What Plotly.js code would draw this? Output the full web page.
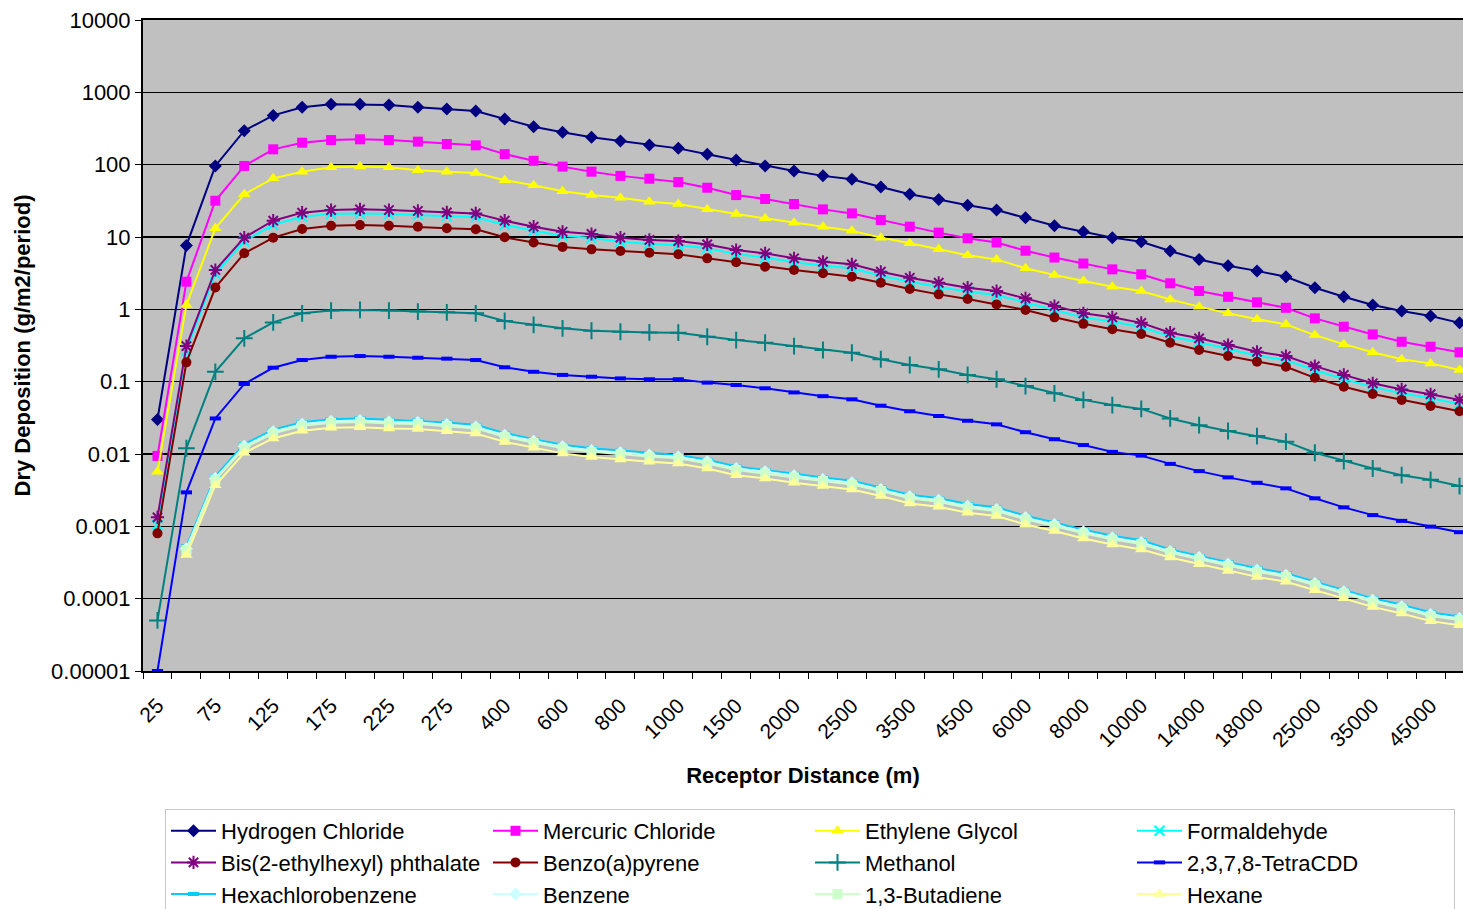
<!DOCTYPE html>
<html>
<head>
<meta charset="utf-8">
<script src="https://cdn.plot.ly/plotly-3.0.1.min.js"></script>
<style>html,body{margin:0;padding:0;background:#fff;overflow:hidden}#chart{width:1463px;height:909px}</style>
</head>
<body>
<div id="chart"></div>
<script>
const distances = ["25","50","75","100","125","150","175","200","225","250","275","300","400","500","600","700","800","900","1000","1250","1500","1750","2000","2250","2500","3000","3500","4000","4500","5000","6000","7000","8000","9000","10000","12000","14000","16000","18000","20000","25000","30000","35000","40000","45000","50000"];

const hydrogenChloride = [0.030, 7.6, 96, 295, 480, 620, 683, 683, 668, 620, 587, 553, 429, 335, 280, 239, 212, 187, 168, 139, 116, 96, 82, 70, 63, 49, 39, 33, 27.4, 23.6, 18.5, 14.3, 11.8, 9.8, 8.6, 6.4, 4.9, 4.0, 3.4, 2.82, 1.99, 1.49, 1.15, 0.95, 0.81, 0.65];
const mercuricChloride = [0.0094, 2.41, 31.7, 96, 163, 201, 219, 224, 219, 208, 193, 185, 140, 113, 94, 80, 70, 64, 57.5, 48, 38, 33.5, 28.6, 24.1, 21.2, 17.2, 13.9, 11.5, 9.6, 8.4, 6.46, 5.2, 4.3, 3.57, 3.05, 2.29, 1.79, 1.49, 1.25, 1.05, 0.75, 0.575, 0.45, 0.356, 0.304, 0.255];
const ethyleneGlycol = [0.0057, 1.15, 13.2, 38.9, 64.7, 80, 92, 94, 92, 84, 80, 77, 61, 52, 43, 38, 34.9, 30.7, 28.6, 24.1, 20.8, 18.1, 15.7, 13.9, 12.2, 9.8, 8.2, 6.75, 5.6, 4.9, 3.69, 2.98, 2.49, 2.05, 1.79, 1.37, 1.09, 0.88, 0.73, 0.62, 0.44, 0.33, 0.255, 0.204, 0.179, 0.145];
const formaldehyde = [0.00105, 0.27, 3.1, 8.7, 14.8, 19.1, 20.8, 21.2, 20.8, 20.2, 19.3, 18.7, 14.8, 12.2, 10.4, 9.7, 8.6, 8.0, 7.7, 7.0, 5.8, 5.2, 4.46, 4.0, 3.69, 2.91, 2.4, 2.05, 1.75, 1.58, 1.25, 0.98, 0.77, 0.68, 0.57, 0.42, 0.35, 0.283, 0.228, 0.199, 0.144, 0.109, 0.084, 0.069, 0.059, 0.049];
const bisPhthalate = [0.00133, 0.31, 3.5, 9.8, 16.8, 21.7, 23.6, 24.1, 23.6, 22.9, 21.9, 21.2, 16.8, 13.9, 11.8, 11.0, 9.8, 9.1, 8.8, 7.9, 6.6, 5.95, 5.07, 4.55, 4.19, 3.31, 2.73, 2.33, 1.99, 1.79, 1.42, 1.11, 0.88, 0.775, 0.65, 0.475, 0.397, 0.321, 0.259, 0.226, 0.164, 0.124, 0.095, 0.078, 0.067, 0.056];
const benzoPyrene = [0.0008, 0.185, 2.0, 5.95, 9.8, 12.9, 14.3, 14.6, 14.3, 13.9, 13.2, 12.8, 9.9, 8.4, 7.3, 6.75, 6.4, 6.06, 5.76, 5.07, 4.47, 3.88, 3.5, 3.15, 2.82, 2.33, 1.91, 1.61, 1.39, 1.17, 0.98, 0.775, 0.63, 0.53, 0.456, 0.345, 0.274, 0.226, 0.189, 0.161, 0.113, 0.085, 0.0675, 0.056, 0.046, 0.039];
const methanol = [0.00005, 0.012, 0.137, 0.397, 0.66, 0.88, 0.96, 0.98, 0.96, 0.93, 0.91, 0.88, 0.69, 0.61, 0.546, 0.506, 0.49, 0.48, 0.475, 0.418, 0.376, 0.345, 0.31, 0.274, 0.251, 0.204, 0.17, 0.148, 0.124, 0.108, 0.087, 0.069, 0.056, 0.0475, 0.042, 0.031, 0.025, 0.0208, 0.0177, 0.0148, 0.0104, 0.008, 0.0063, 0.0051, 0.0044, 0.0036];
const tetraCDD = [0.00001, 0.00295, 0.031, 0.093, 0.156, 0.199, 0.221, 0.226, 0.221, 0.214, 0.208, 0.199, 0.158, 0.137, 0.124, 0.117, 0.111, 0.108, 0.108, 0.097, 0.09, 0.081, 0.071, 0.063, 0.057, 0.0465, 0.039, 0.0335, 0.0288, 0.0257, 0.02, 0.016, 0.0133, 0.0107, 0.0095, 0.0073, 0.0058, 0.00475, 0.004, 0.00335, 0.00244, 0.00183, 0.00143, 0.00119, 0.00099, 0.00083];
const hexachlorobenzene = [null, 0.00053, 0.0049, 0.0137, 0.0216, 0.0275, 0.0302, 0.031, 0.0297, 0.0291, 0.0273, 0.0253, 0.0194, 0.016, 0.0134, 0.012, 0.0111, 0.0103, 0.0097, 0.0083, 0.0067, 0.006, 0.0053, 0.00474, 0.00426, 0.00345, 0.00273, 0.00245, 0.00203, 0.00183, 0.0014, 0.00113, 0.0009, 0.00074, 0.00064, 0.00048, 0.00039, 0.00032, 0.000264, 0.000225, 0.000172, 0.000133, 0.000101, 0.0000823, 0.0000644, 0.0000567];
const benzene = [null, 0.00049, 0.0046, 0.0128, 0.0203, 0.0258, 0.0284, 0.0291, 0.0278, 0.0273, 0.0256, 0.0237, 0.0182, 0.015, 0.0126, 0.0112, 0.0104, 0.0097, 0.0091, 0.0078, 0.0063, 0.0057, 0.005, 0.00444, 0.004, 0.00323, 0.00256, 0.0023, 0.0019, 0.00171, 0.00131, 0.00106, 0.00084, 0.00069, 0.0006, 0.00045, 0.00037, 0.0003, 0.000248, 0.000211, 0.000162, 0.000125, 0.0000951, 0.0000772, 0.0000604, 0.0000531];
const butadiene = [null, 0.00047, 0.0044, 0.0122, 0.0193, 0.0246, 0.027, 0.0277, 0.0265, 0.026, 0.0244, 0.0226, 0.0173, 0.0143, 0.012, 0.0107, 0.0099, 0.0092, 0.0087, 0.0074, 0.006, 0.0054, 0.00475, 0.00423, 0.0038, 0.00308, 0.00244, 0.00219, 0.00181, 0.00163, 0.00125, 0.00101, 0.0008, 0.00066, 0.00057, 0.00043, 0.00035, 0.000285, 0.000236, 0.000201, 0.000154, 0.000119, 0.0000906, 0.0000735, 0.0000575, 0.0000506];
const hexane = [null, 0.0004, 0.0037, 0.0104, 0.0164, 0.0209, 0.023, 0.0235, 0.0225, 0.0221, 0.0207, 0.0192, 0.0147, 0.0122, 0.0102, 0.0091, 0.0084, 0.0078, 0.0074, 0.0063, 0.0051, 0.0046, 0.004, 0.0036, 0.00323, 0.00262, 0.00207, 0.00186, 0.00154, 0.00139, 0.00106, 0.00086, 0.00068, 0.00056, 0.00048, 0.00037, 0.0003, 0.000242, 0.0002, 0.000171, 0.000131, 0.000101, 0.000077, 0.0000625, 0.0000489, 0.000043];

const yTickVals = [0.00001, 0.0001, 0.001, 0.01, 0.1, 1, 10, 100, 1000, 10000];
const yTickText = ["0.00001", "0.0001", "0.001", "0.01", "0.1", "1", "10", "100", "1000", "10000"];

const seriesDefs = [
  {name: "Hydrogen Chloride", y: hydrogenChloride, color: "#000080", symbol: "diamond", size: 10},
  {name: "Mercuric Chloride", y: mercuricChloride, color: "#FF00FF", symbol: "square", size: 10},
  {name: "Ethylene Glycol", y: ethyleneGlycol, color: "#FFFF00", symbol: "triangle-up", size: 11},
  {name: "Formaldehyde", y: formaldehyde, color: "#00FFFF", symbol: "x-thin-open", size: 10},
  {name: "Bis(2-ethylhexyl) phthalate", y: bisPhthalate, color: "#800080", symbol: "asterisk-open", size: 11},
  {name: "Benzo(a)pyrene", y: benzoPyrene, color: "#800000", symbol: "circle", size: 10},
  {name: "Methanol", y: methanol, color: "#008080", symbol: "cross-thin-open", size: 12},
  {name: "2,3,7,8-TetraCDD", y: tetraCDD, color: "#0000FF", symbol: "line-ew-open", size: 8},
  {name: "Hexachlorobenzene", y: hexachlorobenzene, color: "#00CCFF", symbol: "line-ew-open", size: 8},
  {name: "Benzene", y: benzene, color: "#CCFFFF", symbol: "diamond", size: 10},
  {name: "1,3-Butadiene", y: butadiene, color: "#CCFFCC", symbol: "square", size: 10},
  {name: "Hexane", y: hexane, color: "#FFFF99", symbol: "triangle-up", size: 11}
];

const traces = seriesDefs.map(s => {
  const open = s.symbol.indexOf("open") >= 0;
  const lineSym = s.symbol.indexOf("line") === 0;
  return {
    type: "scatter",
    mode: "lines+markers",
    name: s.name,
    x: distances,
    y: s.y,
    connectgaps: false,
    cliponaxis: false,
    line: {color: s.color, width: 2},
    marker: {symbol: s.symbol, size: s.size, color: s.color, line: {color: s.color, width: lineSym ? 4 : (open ? 2 : 0)}}
  };
});

const tickText = distances.map((d, i) => i % 2 === 0 ? d : "");
const font = "Arial, 'Liberation Sans', sans-serif";

const layout = {
  width: 1463,
  height: 909,
  margin: {l: 143, r: 0, t: 20, b: 238},
  paper_bgcolor: "#FFFFFF",
  plot_bgcolor: "#C0C0C0",
  font: {family: font, size: 20, color: "#000"},
  showlegend: true,
  xaxis: {
    type: "category",
    range: [-0.5, 45.12],
    tickmode: "array",
    tickvals: distances,
    ticktext: tickText,
    tickson: "boundaries",
    ticks: "outside",
    ticklen: 6,
    tickcolor: "#000",
    tickangle: -45,
    ticklabelstandoff: 12,
    tickfont: {family: font, size: 21, color: "#000"},
    showgrid: false,
    showline: true,
    linecolor: "#000",
    linewidth: 2,
    mirror: true,
    zeroline: false,
    title: {text: "Receptor Distance (m)", font: {family: font, size: 22, color: "#000", weight: "bold"}, standoff: 17}
  },
  yaxis: {
    type: "log",
    range: [-5, 4],
    tickmode: "array",
    tickvals: yTickVals,
    ticktext: yTickText,
    ticks: "outside",
    ticklen: 6,
    tickcolor: "#000",
    tickfont: {family: font, size: 22, color: "#000"},
    showgrid: true,
    gridcolor: "#000",
    gridwidth: 1.5,
    showline: true,
    linecolor: "#000",
    linewidth: 2,
    zeroline: false,
    title: {text: "Dry Deposition (g/m2/period)", font: {family: font, size: 22, color: "#000", weight: "bold"}, standoff: 14}
  },
  legend: {
    orientation: "h",
    xref: "container",
    yref: "container",
    x: 165 / 1463,
    y: 1 - 809 / 909,
    xanchor: "left",
    yanchor: "top",
    entrywidth: 262,
    entrywidthmode: "pixels",
    itemwidth: 45,
    bgcolor: "#FFFFFF",
    bordercolor: "#C8C8C8",
    borderwidth: 1,
    font: {family: font, size: 22, color: "#000"},
    traceorder: "normal"
  }
};

Plotly.newPlot("chart", traces, layout, {displayModeBar: false, staticPlot: true});
</script>
</body>
</html>
